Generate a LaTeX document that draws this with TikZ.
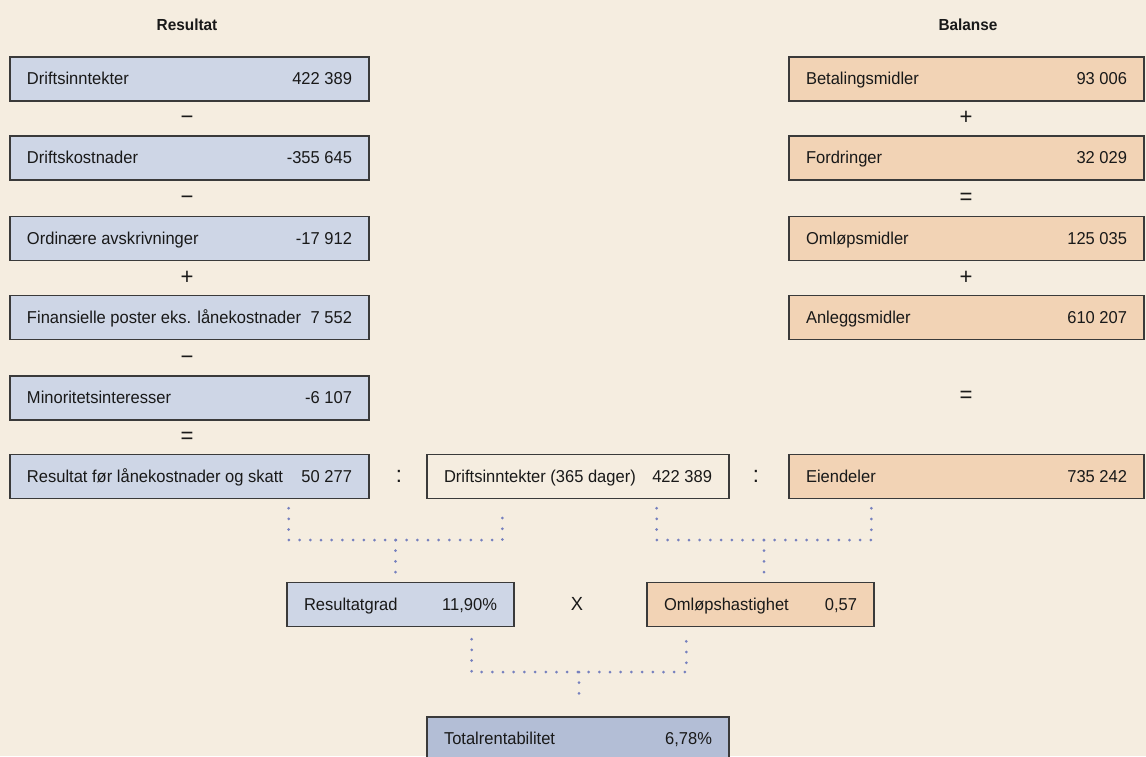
\documentclass[tikz,border=0pt]{standalone}
\usepackage{fontspec}
\setmainfont[FakeStretch=0.96]{Liberation Sans}
\usepackage{tikz}
\usetikzlibrary{calc}
\setlength{\parindent}{0pt}

\definecolor{paper}{RGB}{245,237,224}
\definecolor{resblue}{RGB}{206,214,230}
\definecolor{totblue}{RGB}{179,190,214}
\definecolor{balorange}{RGB}{242,211,181}
\definecolor{edge}{RGB}{58,58,58}
\definecolor{dotblue}{RGB}{118,128,190}

\pgfkeys{/tikz/rowwd/.initial=300pt}
\tikzset{
  every node/.style={font=\fontsize{17.2}{21}\selectfont, text=black!90},
  valbox/.style={draw=edge, line width=1.3pt, rectangle, minimum height=44pt,
    inner xsep=17pt, inner ysep=0pt, text height=13pt, text depth=2pt,
    execute at begin node={\hbox to \pgfkeysvalueof{/tikz/rowwd}\bgroup},
    execute at end node={\egroup}},
  resbox/.style={valbox, fill=resblue, rowwd=325pt},
  balbox/.style={valbox, fill=balorange, rowwd=321pt},
  plainbox/.style={valbox, fill=paper, rowwd=268pt},
  totbox/.style={valbox, fill=totblue, rowwd=268pt},
  smallbox/.style={valbox, rowwd=193pt},
  oper/.style={inner sep=0pt, font=\fontsize{23}{27}\selectfont, text height=13pt, text depth=1pt},
  title/.style={font=\fontsize{16}{19}\selectfont\bfseries},
  dotlink/.style={draw=dotblue, line width=3pt, line cap=round, dash pattern=on 0pt off 10.7pt}
}

\begin{document}
\begin{tikzpicture}[x=1pt,y=-1pt]

    % Background
    \fill[paper] (0,0) rectangle (1146,756);
    \useasboundingbox (0,0) rectangle (1146,756);

    % Titles
    \node[title] (tres) at (187,25) {Resultat};
    \node[title] (tbal) at (968,25) {Balanse};

    % Resultat column
    \node[resbox] (di) at (189.5,79) {Driftsinntekter\hfill 422 389};
    \node[resbox] (dk) at (189.5,158) {Driftskostnader\hfill -355 645};
    \node[resbox] (oa) at (189.5,238.5) {Ordinære avskrivninger\hfill -17 912};
    \node[resbox] (fp) at (189.5,317.5) {Finansielle poster eks. lånekostnader\hfill 7 552};
    \node[resbox] (mi) at (189.5,398) {Minoritetsinteresser\hfill -6 107};
    \node[resbox] (rf) at (189.5,476.5) {Resultat før lånekostnader og skatt\hfill 50 277};

    \node[oper] (o1) at (187,118.5) {−};
    \node[oper] (o2) at (187,198) {−};
    \node[oper] (o3) at (187,278) {+};
    \node[oper] (o4) at (187,358) {−};
    \node[oper] (o5) at (187,437) {=};

    % Balanse column
    \node[balbox] (bm) at (966.5,79) {Betalingsmidler\hfill 93 006};
    \node[balbox] (fo) at (966.5,158) {Fordringer\hfill 32 029};
    \node[balbox] (om) at (966.5,238.5) {Omløpsmidler\hfill 125 035};
    \node[balbox] (an) at (966.5,317.5) {Anleggsmidler\hfill 610 207};
    \node[balbox] (ei) at (966.5,476.5) {Eiendeler\hfill 735 242};

    \node[oper] (p1) at (966,118.5) {+};
    \node[oper] (p2) at (966,198) {=};
    \node[oper] (p3) at (966,278) {+};
    \node[oper] (p4) at (966,396) {=};

    % Middle row
    \node[plainbox] (dd) at (578,476.5) {Driftsinntekter (365 dager)\hfill 422 389};
    \node[oper] (c1) at (399,476.5) {:};
    \node[oper] (c2) at (756,476.5) {:};

    % Ratios
    \node[smallbox, fill=resblue] (rg) at (400.5,604.5) {Resultatgrad\hfill 11,90\%};
    \node[smallbox, fill=balorange] (oh) at (760.5,604.5) {Omløpshastighet\hfill 0,57};
    \node[oper, font=\fontsize{19}{23}\selectfont] (x1) at (577,604.5) {X};
    \node[totbox] (tr) at (578,739) {Totalrentabilitet\hfill 6,78\%};

    % Dotted joins
    \coordinate (ja) at (395.5,540);
    \coordinate (jb) at (764,540);
    \coordinate (jc) at (579,672);

    \draw[dotlink] ([xshift=-81pt,yshift=-9pt]rf.south east) |- (ja) -| ([xshift=76pt,yshift=-9pt]dd.south west);
    \draw[dotlink] (ja) -- ([yshift=9pt]rg.north -| ja);
    \draw[dotlink] ([xshift=-73pt,yshift=-9pt]dd.south east) |- (jb) -| ([xshift=83pt,yshift=-9pt]ei.south west);
    \draw[dotlink] (jb) -- ([yshift=9pt]oh.north -| jb);
    \draw[dotlink] ([xshift=-43pt,yshift=-12pt]rg.south east) |- (jc) -| ([xshift=40pt,yshift=-12pt]oh.south west);
    \draw[dotlink] (jc) -- ([yshift=14pt]tr.north -| jc);

\end{tikzpicture}
\end{document}
